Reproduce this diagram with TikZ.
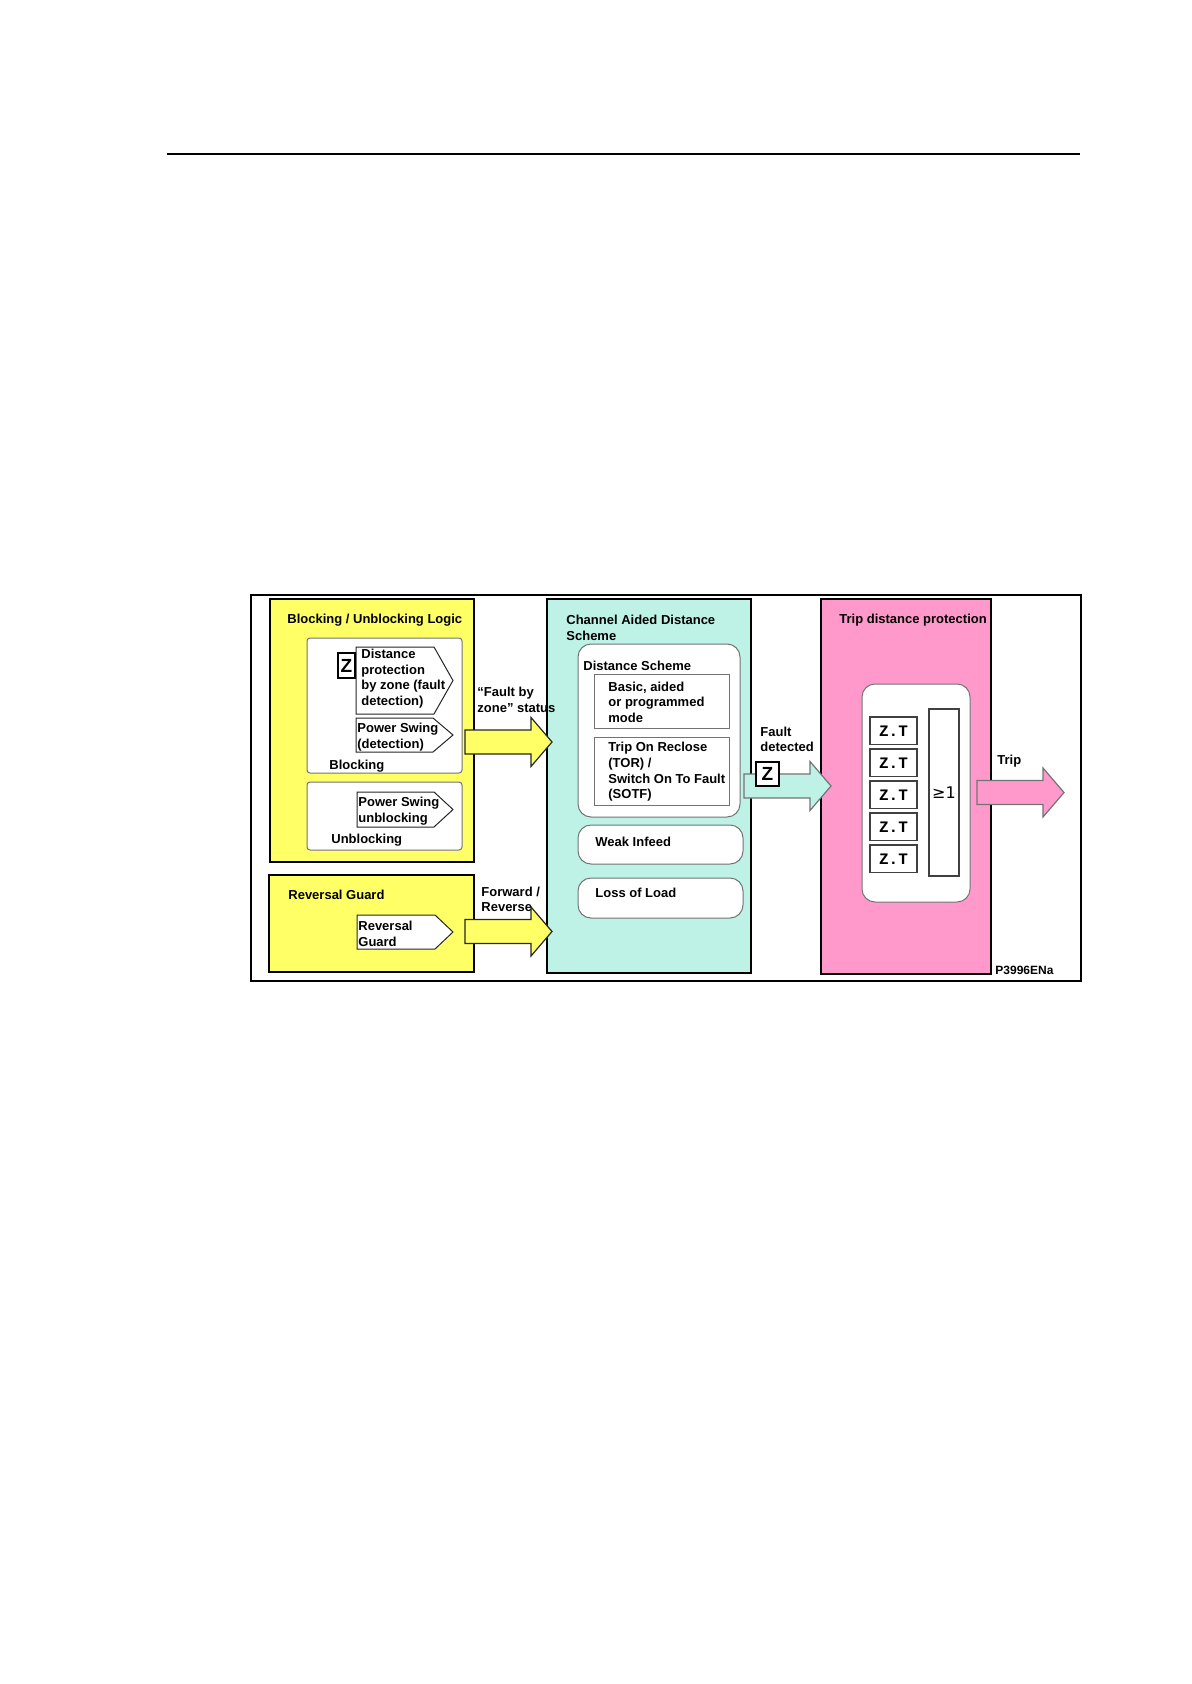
\documentclass[tikz,border=0pt]{standalone}
\usepackage{fontspec}
\setmainfont{Liberation Sans}
\setmonofont{Liberation Mono}
\newfontfamily\symfont{DejaVu Sans}
\usetikzlibrary{calc,fit}

\definecolor{bylw}{RGB}{255,255,102}
\definecolor{bcyan}{RGB}{190,242,230}
\definecolor{bpink}{RGB}{255,153,204}

% wide arrow from tail (#2) to tip (#3)
\newcommand\blockarrow[3]{%
  \draw[barrow,#1] ($(#2)+(0,-12)$) -- ($(#3)+(-21,-12)$) -- ($(#3)+(-21,-24.5)$)
    -- (#3) -- ($(#3)+(-21,24.5)$) -- ($(#3)+(-21,12)$) -- ($(#2)+(0,12)$) -- cycle;}

\begin{document}
\begin{tikzpicture}[x=0.5pt,y=-0.5pt]
\tikzstyle{every node}=[font=\fontsize{6.5}{7.8}\selectfont\bfseries, inner sep=0pt, align=left]
\tikzstyle{lbl}=[anchor=west]
\tikzstyle{panel}=[draw=black, line width=1.15pt, inner sep=0pt]
\tikzstyle{sub}=[draw=black!55, fill=white, line width=0.5pt, rounded corners=1.5pt, inner sep=0pt]
\tikzstyle{rsub}=[sub, rounded corners=6.5pt]
\tikzstyle{sig}=[draw=black!85, fill=white, line width=0.5pt]
\tikzstyle{zbox}=[draw=black, fill=white, line width=0.6pt, minimum width=8.5pt, font=\fontsize{9.5}{9.5}\selectfont\bfseries]
\tikzstyle{ztbox}=[draw=black!75, fill=white, line width=0.6pt, minimum width=23.5pt,
  minimum height=13.75pt, font=\fontsize{8}{8}\selectfont\ttfamily\bfseries]
\tikzstyle{barrow}=[line width=0.6pt, line join=miter]
\useasboundingbox (0,0) rectangle (1191,1684);

\draw[line width=0.7pt] (167,154) -- (1080,154);
\node[draw, line width=0.9pt, fit={(251,595) (1081,981)}] (frame) {};

% blocking / unblocking logic
\node[panel, fill=bylw, fit={(270,599) (474,862)}] (blk) {};
\node[lbl] (blkT) at (287,620) {Blocking / Unblocking Logic};
\node[sub, fit={(307,638) (462,773)}] (bsub) {};
\node[sub, fit={(307,782) (462,850)}] (usub) {};
\draw[sig] (356,647) -- (434,647) -- (453,680.5) -- (434,714) -- (356,714) -- cycle;
\node[lbl] (dprot) at (361,678.5) {Distance\\protection\\by zone (fault\\detection)};
\node[zbox, minimum height=12.5pt] (z1) at (346.5,665.5) {Z};
\draw[sig] (356,718) -- (433,718) -- (453,735) -- (433,752) -- (356,752) -- cycle;
\node[lbl] (psd) at (357,737) {Power Swing\\(detection)};
\node[lbl] (blkL) at (329,766) {Blocking};
\draw[sig] (357,792) -- (434,792) -- (453,809.5) -- (434,827) -- (357,827) -- cycle;
\node[lbl] (psu) at (358,811) {Power Swing\\unblocking};
\node[lbl] (ublL) at (331,840) {Unblocking};

% reversal guard
\node[panel, fill=bylw, fit={(269,875) (474,972)}] (rev) {};
\node[lbl] (revT) at (288,895) {Reversal Guard};
\draw[sig] (357,915) -- (435,915) -- (453,932) -- (435,949) -- (357,949) -- cycle;
\node[lbl] (revg) at (358,934) {Reversal\\Guard};

% channel aided distance scheme
\node[panel, fill=bcyan, fit={(547,599) (751,973)}] (cads) {};
\node[lbl] (cadsT) at (566,628) {Channel Aided Distance\\Scheme};
\node[rsub, fit={(578,644) (740,817)}] (dsch) {};
\node[lbl] (dschT) at (583,666) {Distance Scheme};
\node[sub, rounded corners=0pt, fit={(594,674) (729,728)}] (basic) {};
\node[lbl] at (608,702) {Basic, aided\\or programmed\\mode};
\node[sub, rounded corners=0pt, fit={(594,737) (729,805)}] (tor) {};
\node[lbl] at (608,772) {Trip On Reclose\\(TOR) /\\Switch On To Fault\\(SOTF)};
\node[rsub, fit={(578,825) (743,864)}] (weak) {};
\node[lbl] at (595,842) {Weak Infeed};
\node[rsub, fit={(578,878) (743,918)}] (lol) {};
\node[lbl] at (595,893) {Loss of Load};

% trip distance protection
\node[panel, fill=bpink, fit={(821,599) (991,974)}] (tdp) {};
\node[lbl] (tdpT) at (839,620) {Trip distance protection};
\node[rsub, fit={(862,684) (970,902)}] (zsub) {};
\foreach \k in {0,...,4}
  \node[ztbox] (zt\k) at (893.5,730.75+32*\k) {Z.T};
\node[draw=black!75, fill=white, line width=0.6pt, fit={(929,709) (959,876)}] (or1) {};
\node[font=\fontsize{8}{8}\selectfont\symfont] at (or1.center) {≥1};

% wide arrows
\coordinate (fzA) at (465,742);
\coordinate (fzB) at (552,742);
\node[lbl] (fzL) at (477,700) {“Fault by\\zone” status};
\blockarrow{draw=black!85, fill=bylw}{fzA}{fzB}
\coordinate (frA) at (465,931.5);
\coordinate (frB) at (552,931.5);
\node[lbl] (frL) at (481,899.5) {Forward /\\Reverse};
\blockarrow{draw=black!85, fill=bylw}{frA}{frB}
\coordinate (fdA) at (744,786);
\coordinate (fdB) at (831,786);
\node[lbl] (fdL) at (760,739.5) {Fault\\detected};
\blockarrow{draw=black!55, fill=bcyan}{fdA}{fdB}
\node[zbox, minimum width=11.5pt, minimum height=12pt] (z2) at (767.5,774) {Z};
\coordinate (trA) at (977,792.5);
\coordinate (trB) at (1064,792.5);
\node[lbl] (trL) at (997,761) {Trip};
\blockarrow{draw=black!55, fill=bpink}{trA}{trB}

\node[lbl, font=\fontsize{6}{6}\selectfont\bfseries] (ref) at (995,970) {P3996ENa};
\end{tikzpicture}
\end{document}
